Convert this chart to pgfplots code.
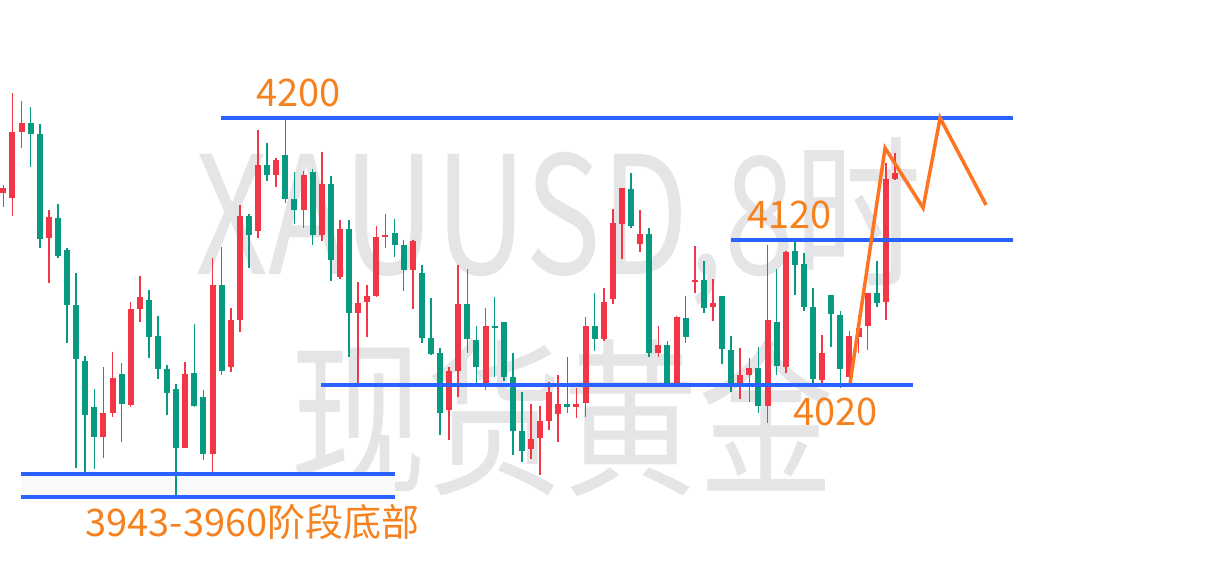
\documentclass[border=0pt]{standalone}
\usepackage{pgfplots}
\pgfplotsset{compat=1.18}
\usepackage{pgfplotstable}
\usepackage{fontspec}
\setmainfont{Noto Sans CJK SC}

\definecolor{cRed}{HTML}{F23645}
\definecolor{cGreen}{HTML}{089981}
\definecolor{cBlue}{HTML}{2962FF}
\definecolor{cText}{HTML}{F5821F}
\definecolor{cZig}{HTML}{FF7421}
\definecolor{cMark}{HTML}{E5E5E8}

% candles: i, wick top, wick bottom, body top, body bottom (chart rows, 0 = top)
\pgfplotstableread{
i  wt  wb  bt  bb
1  185 207 188 193
2  93  216 132 198
3  101 148 123 132
6  210 283 217 238
12 367 458 413 437
13 352 417 378 413
15 302 407 309 405
16 276 322 297 309
21 362 448 374 448
24 258 473 285 454
26 308 372 320 367
27 205 332 216 320
29 130 238 165 231
31 158 187 160 175
34 171 228 175 210
36 152 241 184 235
38 220 279 229 277
40 282 385 303 313
41 285 337 296 302
42 226 297 237 296
43 214 248 235 237
46 240 309 241 270
50 367 440 371 410
51 265 397 304 371
54 308 390 326 384
59 404 459 439 449
60 406 475 421 438
61 382 430 392 421
62 375 442 404 414
64 388 418 404 407
65 317 417 326 403
67 288 341 302 339
68 209 304 223 299
69 188 259 188 224
71 210 252 234 244
73 326 357 345 353
75 316 383 317 383
77 246 293 280 282
79 279 321 303 307
82 348 399 375 383
83 358 402 368 375
85 245 423 320 406
87 251 373 252 367
91 335 385 353 380
94 331 383 336 377
95 315 353 328 337
96 293 350 293 326
98 163 320 179 302
99 153 180 173 179
}\upcandles

\pgfplotstableread{
i  wt  wb  bt  bb
4  107 167 123 134
5  124 248 134 239
7  204 258 218 256
8  248 343 250 305
9  273 468 305 359
10 356 473 361 415
11 389 469 407 437
14 363 442 374 404
17 290 358 300 337
18 316 379 336 369
19 365 415 369 393
20 384 497 389 448
22 324 407 373 406
23 390 460 397 454
25 247 375 285 371
28 214 268 216 235
30 143 181 165 175
32 118 203 155 199
33 172 224 199 210
35 169 245 172 235
37 176 281 184 260
39 220 357 229 313
44 219 257 233 245
45 240 291 245 270
47 265 343 273 338
48 298 355 338 354
49 348 435 353 413
52 269 353 304 339
53 326 384 340 367
55 297 377 326 328
56 322 381 322 377
57 353 455 377 431
58 392 462 431 451
63 357 413 404 407
66 293 351 326 339
70 173 228 189 226
72 228 357 234 353
74 341 385 345 383
76 296 343 318 337
78 261 313 280 308
80 296 364 296 349
81 336 392 350 383
84 347 413 368 406
86 269 375 322 366
88 242 295 251 265
89 253 311 264 307
90 288 383 307 379
92 295 347 295 314
93 311 388 315 369
97 261 307 293 303
}\downcandles

\pgfplotsset{
  wick/.style={draw=none, mark=none,
    error bars/.cd, y dir=plus, y explicit, error mark=none,
    error bar style={draw=#1, line width=1.6pt}},
  body/.style={draw=none, mark=none,
    error bars/.cd, y dir=plus, y explicit, error mark=none,
    error bar style={draw=#1, line width=6pt}},
}

\begin{document}
\begin{tikzpicture}
\begin{axis}[
  scale only axis, width=1230pt, height=584pt,
  xmin=0.6703, xmax=135.835, ymin=0, ymax=584, y dir=reverse,
  axis lines=none, xtick=\empty, ytick=\empty,
  clip=false,
]
% keep the whole canvas in the bounding box
\path (rel axis cs:0,0) rectangle (rel axis cs:1,1);

% watermark
\node[anchor=base west, inner sep=0pt, text=cMark, xscale=0.775,
  font=\fontsize{164}{164}\selectfont] at (axis cs:22.10,275) {XAUUSD,8时};
\node[anchor=west, inner sep=0pt, text=cMark, xscale=0.8,
  font=\fontsize{170}{170}\selectfont] at (axis cs:32.54,418) {现货黄金};

% faint band between the two bottom lines
\addplot[fill=black!2, draw=none] coordinates {(2.98,474) (44.08,474) (44.08,497) (2.98,497)};

% candles
\addplot[wick=cRed] table[x=i, y=wt, y error plus expr=\thisrow{wb}-\thisrow{wt}] {\upcandles};
\addplot[body=cRed] table[x=i, y=bt, y error plus expr=\thisrow{bb}-\thisrow{bt}] {\upcandles};
\addplot[wick=cGreen] table[x=i, y=wt, y error plus expr=\thisrow{wb}-\thisrow{wt}] {\downcandles};
\addplot[body=cGreen] table[x=i, y=bt, y error plus expr=\thisrow{bb}-\thisrow{bt}] {\downcandles};

% levels
\addplot[cBlue, line width=4pt] coordinates {(24.96,118) (111.99,118)};
\addplot[cBlue, line width=4pt] coordinates {(81.00,240) (112.00,240)};
\addplot[cBlue, line width=4pt] coordinates {(35.95,385) (101.00,385)};
\addplot[cBlue, line width=4pt] coordinates {(2.98,474) (44.08,474)};
\addplot[cBlue, line width=4pt] coordinates {(2.98,497) (44.08,497)};

% expected path
\addplot[cZig, line width=3.5pt, line join=miter] coordinates {
  (94.08,383) (97.92,148) (102.10,208) (103.97,118) (109.02,205)};

% labels
\begin{scope}[every node/.style={anchor=base west, inner sep=0pt, text=cText,
  font=\fontsize{38}{46}\selectfont}]
\node at (axis cs:28.80,107) {4200};
\node at (axis cs:82.76,229) {4120};
\node at (axis cs:87.81,426) {4020};
\node at (axis cs:10.01,537) {3943-3960阶段底部};
\end{scope}
\end{axis}
\end{tikzpicture}
\end{document}
